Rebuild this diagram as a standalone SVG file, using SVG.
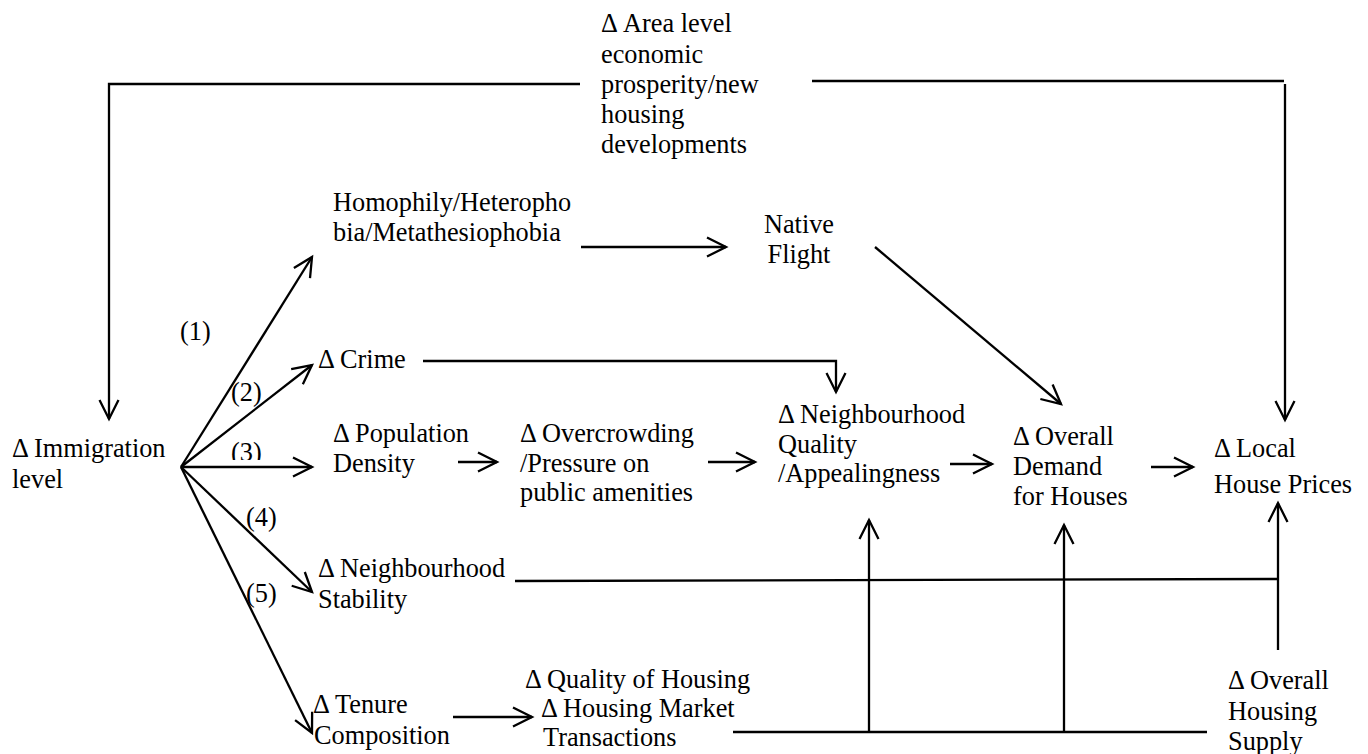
<svg xmlns="http://www.w3.org/2000/svg" width="1368" height="754" viewBox="0 0 1368 754">
<style>
text{font-family:"Liberation Serif","Times New Roman",serif;font-size:26.3px;fill:#000}
.c{fill:none;stroke:#000;stroke-width:2.3}
.a{marker-end:url(#arr)}
</style>
<defs>
<marker id="arr" markerUnits="userSpaceOnUse" markerWidth="30" markerHeight="30" viewBox="-25 -15 30 30" refX="0" refY="0" orient="auto">
<path d="M-19,-9.5 L0,0 L-19,9.5" fill="none" stroke="#000" stroke-width="2.3"/>
</marker>
<clipPath id="clip3"><rect x="220" y="430" width="60" height="30"/></clipPath>
</defs>
<rect width="1368" height="754" fill="#fff"/>
<g id="connectors">
<path class="c a" d="M580,84 H109 V419"/>
<path class="c" d="M812,81 H1284"/>
<path class="c a" d="M1285,84 V420"/>
<path class="c a" d="M581,247 H726"/>
<path class="c a" d="M875,247 L1061,404"/>
<path class="c a" d="M423,361 H836 V392"/>
<path class="c a" d="M181,467 L312,257"/>
<path class="c a" d="M181,467 L312,365"/>
<path class="c a" d="M181,467 L312,467"/>
<path class="c a" d="M181,467 L312,592"/>
<path class="c a" d="M181,467 L312,733"/>
<path class="c a" d="M458,462 H497"/>
<path class="c a" d="M708,462 H755"/>
<path class="c a" d="M950,464 H992"/>
<path class="c a" d="M1151,467 H1193"/>
<path class="c" d="M515,581 L1278,579"/>
<path class="c a" d="M1278,650 V503"/>
<path class="c a" d="M453,717 H532"/>
<path class="c" d="M733,732 H1207"/>
<path class="c a" d="M869,732 V520"/>
<path class="c a" d="M1064,732 V525"/>
<g id="edge-labels">
<text x="180" y="340">(1)</text>
<text x="231" y="401">(2)</text>
<text x="231" y="461" clip-path="url(#clip3)">(3)</text>
<text x="246" y="526">(4)</text>
<text x="246" y="602">(5)</text>
</g>
</g>
<g id="n-area"><text x="601" y="32">Δ Area level</text><text x="601" y="62.5">economic</text><text x="601" y="93">prosperity/new</text><text x="601" y="123">housing</text><text x="601" y="153">developments</text></g>
<g id="n-homophily"><text x="333" y="211">Homophily/Heteropho</text><text x="333" y="241">bia/Metathesiophobia</text></g>
<g id="n-native"><text x="799" y="233" text-anchor="middle">Native</text><text x="799" y="263" text-anchor="middle">Flight</text></g>
<g id="n-immigration"><text x="12" y="457">Δ Immigration</text><text x="12" y="488">level</text></g>
<g id="n-crime"><text x="318" y="368">Δ Crime</text></g>
<g id="n-population"><text x="333" y="442">Δ Population</text><text x="333" y="472">Density</text></g>
<g id="n-overcrowding"><text x="520" y="442">Δ Overcrowding</text><text x="520" y="472">/Pressure on</text><text x="520" y="501">public amenities</text></g>
<g id="n-quality"><text x="778" y="423">Δ Neighbourhood</text><text x="778" y="453">Quality</text><text x="778" y="482">/Appealingness</text></g>
<g id="n-demand"><text x="1013" y="445">Δ Overall</text><text x="1013" y="475">Demand</text><text x="1013" y="505">for Houses</text></g>
<g id="n-prices"><text x="1214" y="457">Δ Local</text><text x="1214" y="493">House Prices</text></g>
<g id="n-stability"><text x="318" y="577">Δ Neighbourhood</text><text x="318" y="608">Stability</text></g>
<g id="n-tenure"><text x="313" y="713">Δ Tenure</text><text x="314" y="744">Composition</text></g>
<g id="n-housingq"><text x="525" y="688">Δ Quality of Housing</text><text x="541" y="717">Δ Housing Market</text><text x="543" y="746">Transactions</text></g>
<g id="n-supply"><text x="1228" y="689">Δ Overall</text><text x="1228" y="720">Housing</text><text x="1228" y="750">Supply</text></g>
</svg>
